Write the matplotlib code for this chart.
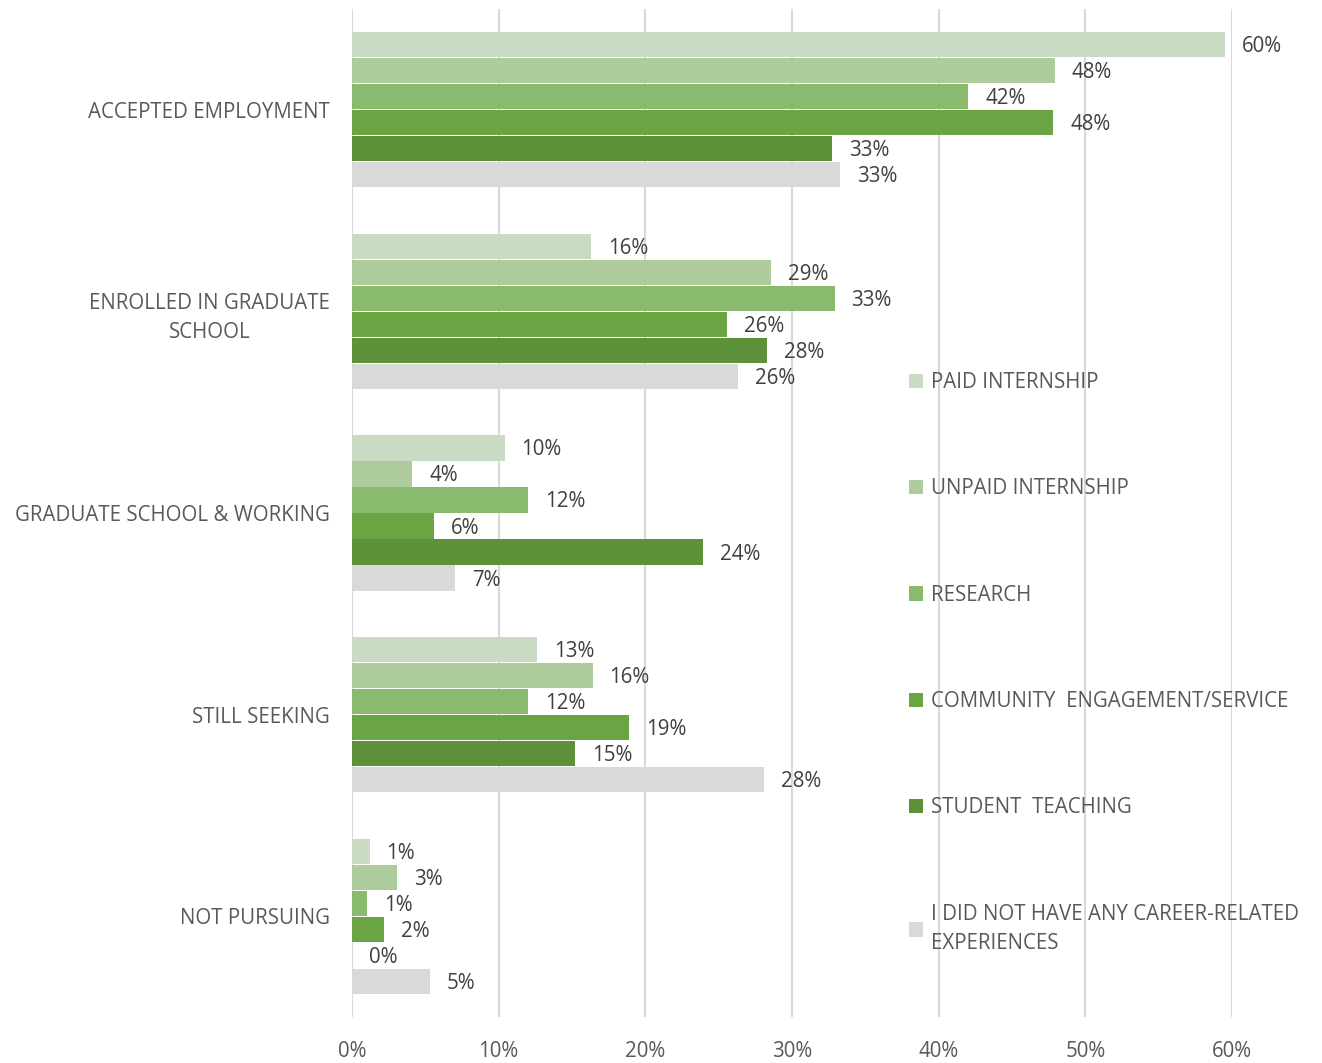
import numpy as np
import matplotlib
matplotlib.use("Agg")
from matplotlib import pyplot as plt
from matplotlib.patches import Patch

categories = [
    "ACCEPTED EMPLOYMENT",
    "ENROLLED IN GRADUATE\nSCHOOL",
    "GRADUATE SCHOOL & WORKING",
    "STILL SEEKING",
    "NOT PURSUING",
]
series = [
    "PAID INTERNSHIP",
    "UNPAID INTERNSHIP",
    "RESEARCH",
    "COMMUNITY  ENGAGEMENT/SERVICE",
    "STUDENT  TEACHING",
    "I DID NOT HAVE ANY CAREER-RELATED\nEXPERIENCES",
]
colors = ["#c9dbc2", "#adcb9b", "#8aba6d", "#6aa443", "#5d913a", "#d9d9d9"]

paid = [59.5, 16.3, 10.4, 12.6, 1.2]
unpaid = [47.9, 28.6, 4.1, 16.4, 3.1]
research = [42.0, 32.9, 12.0, 12.0, 1.0]
community = [47.8, 25.6, 5.6, 18.9, 2.2]
student = [32.7, 28.3, 23.9, 15.2, 0.0]
none_exp = [33.3, 26.3, 7.0, 28.1, 5.3]
values = [paid, unpaid, research, community, student, none_exp]

xticks = [0, 10, 20, 30, 40, 50, 60]

plt.rcParams["font.family"] = ["Open Sans", "DejaVu Sans"]
fs = 14.8

fig = plt.figure(figsize=(13.22, 10.63), dpi=100)
ax = fig.add_axes([352 / 1322, 1 - 1017 / 1063, 880 / 1322, 1008 / 1063])

y = np.arange(len(categories))
h = 0.129
for i, (name, vals, col) in enumerate(zip(series, values, colors)):
    pos = y + (i - 2.5) * h
    ax.barh(pos, vals, height=h * 0.97, color=col, label=name, zorder=2)
    for p, v in zip(pos, vals):
        ax.annotate(f"{round(v):.0f}%", (v, p), xytext=(17, -2),
                    textcoords="offset pixels", ha="left", va="center",
                    fontsize=fs, color="#404040")

ax.set_xlim(0, 60)
ax.set_ylim(len(categories) - 0.5, -0.5)
ax.set_xticks(xticks)
ax.set_xticklabels([f"{t}%" for t in xticks])
ax.set_yticks(y)
ax.set_yticklabels(categories)
for lbl in ax.get_yticklabels():
    lbl.set_multialignment("center")
    lbl.set_linespacing(1.5)
ax.tick_params(axis="both", length=0, labelsize=fs, colors="#595959")
ax.tick_params(axis="y", pad=16)
ax.tick_params(axis="x", pad=17)
ax.grid(axis="x", color="#d9d9d9", linewidth=1.5, zorder=0)
for s in ax.spines.values():
    s.set_visible(False)

handles = [Patch(facecolor=c, edgecolor="none") for c in colors]
leg = fig.legend(handles, series, loc="upper left",
                 bbox_to_anchor=(909 / 1322, 1 - 372 / 1063),
                 frameon=False, fontsize=fs, labelcolor="#595959",
                 handlelength=0.7, handleheight=0.7, handletextpad=0.35,
                 labelspacing=4.15, borderpad=0, borderaxespad=0)
for t in leg.get_texts():
    t.set_linespacing(1.5)

fig.savefig("out.png", dpi=100)
